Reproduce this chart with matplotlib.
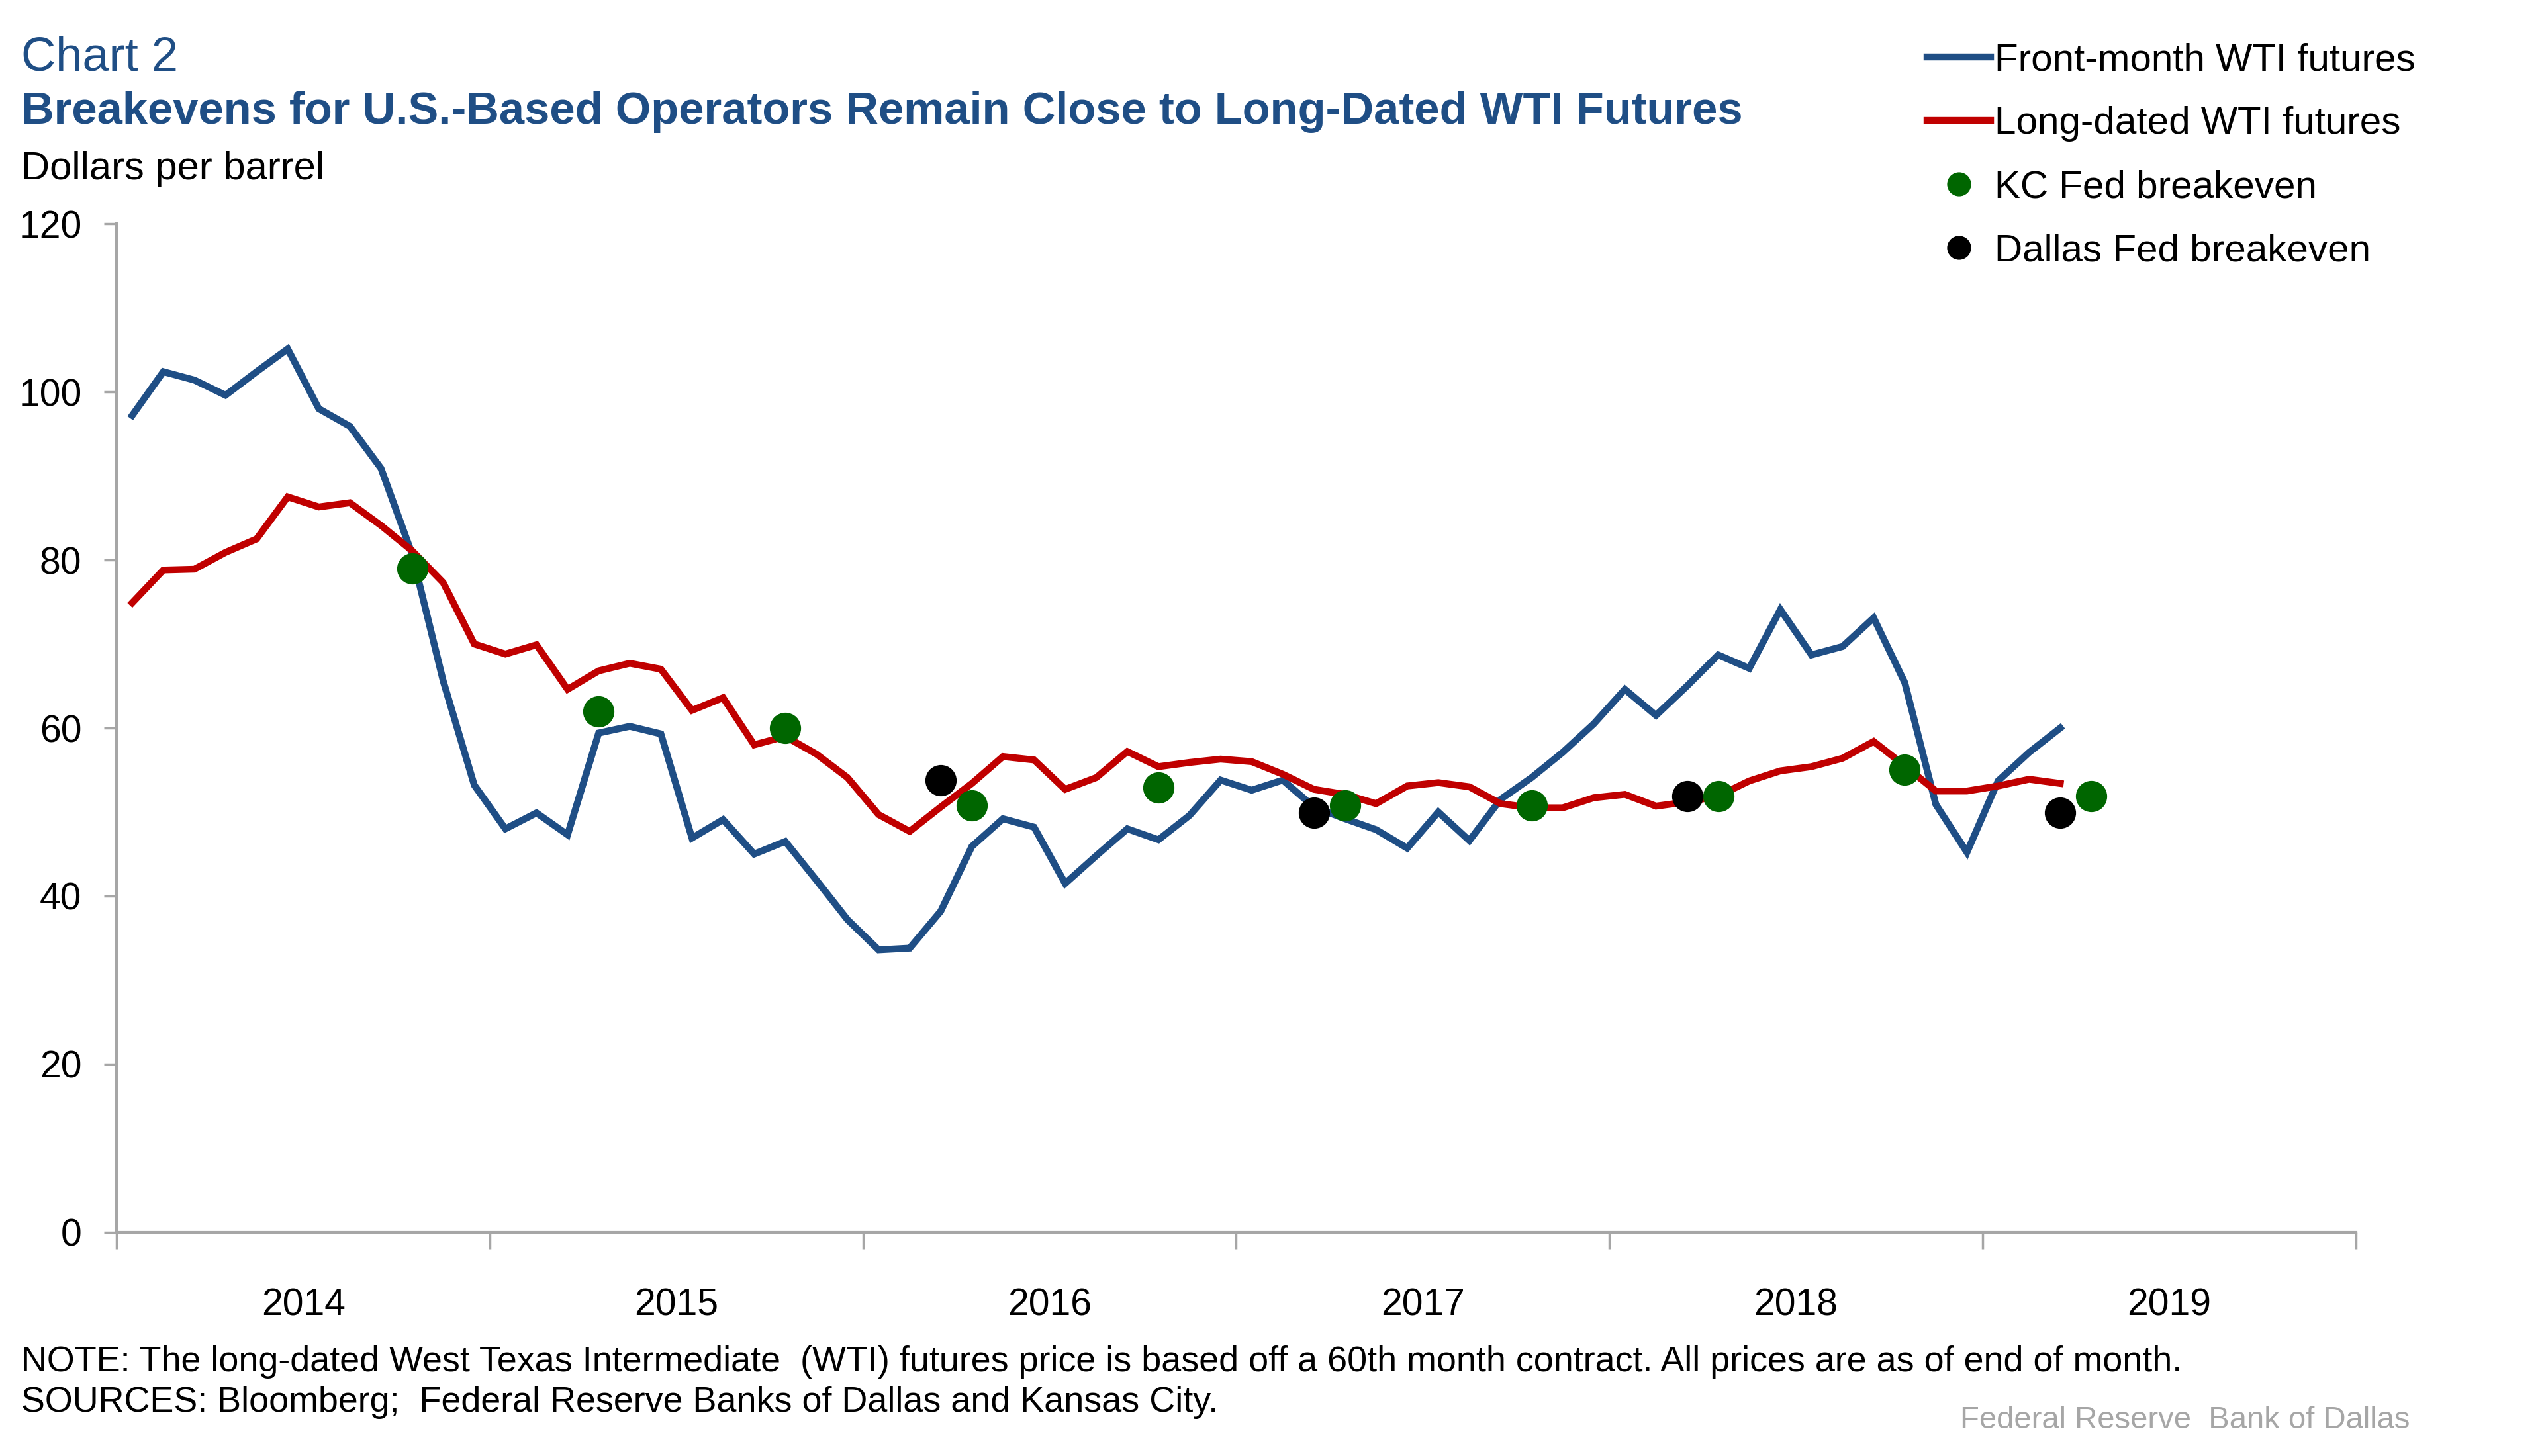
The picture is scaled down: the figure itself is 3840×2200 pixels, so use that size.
import numpy as np
import pandas as pd
import matplotlib
matplotlib.use("Agg")
import matplotlib.pyplot as plt
from matplotlib.ticker import FixedLocator, NullFormatter

plt.rcParams['font.family'] = ['Liberation Sans', 'DejaVu Sans']

# monthly end-of-month prices, Jan 2014 - Mar 2019
start = '2014-01'
front_month = [
    97.2, 102.4, 101.4, 99.6, 102.4, 105.1, 98.0, 95.9, 90.9, 80.7, 65.6, 53.2,
    48.0, 49.9, 47.3, 59.4, 60.2, 59.3, 46.9, 49.1, 45.0, 46.5, 41.9, 37.2,
    33.6, 33.8, 38.2, 45.9, 49.2, 48.2, 41.5, 44.8, 48.0, 46.7, 49.6, 53.8,
    52.6, 53.8, 50.6, 49.2, 47.9, 45.7, 50.0, 46.6, 51.5, 54.1, 57.1, 60.5,
    64.6, 61.5, 65.0, 68.7, 67.1, 74.1, 68.7, 69.7, 73.1, 65.4, 50.9, 45.2,
    53.7, 57.1, 60.0]
long_dated = [
    74.9, 78.8, 78.9, 80.9, 82.5, 87.5, 86.3, 86.8, 84.1, 81.1, 77.3, 70.0,
    68.8, 69.9, 64.6, 66.8, 67.7, 67.0, 62.1, 63.6, 58.0, 59.0, 56.9, 54.1,
    49.7, 47.7, 50.6, 53.4, 56.6, 56.2, 52.7, 54.1, 57.2, 55.4, 55.9, 56.3,
    56.0, 54.5, 52.7, 52.1, 51.0, 53.1, 53.5, 53.0, 51.0, 50.5, 50.5, 51.7,
    52.1, 50.7, 51.2, 51.9, 53.7, 54.9, 55.4, 56.4, 58.4, 55.5, 52.5, 52.5,
    53.1, 53.9, 53.4]

kc_dates = ['2014-10', '2015-04', '2015-10', '2016-04', '2016-10',
            '2017-04', '2017-10', '2018-04', '2018-10', '2019-04']
kc_values = [79.0, 62.0, 60.0, 50.8, 52.9, 50.8, 50.8, 51.9, 55.0, 51.9]
dallas_dates = ['2016-03', '2017-03', '2018-03', '2019-03']
dallas_values = [53.8, 49.9, 51.9, 49.9]

years = ['2014', '2015', '2016', '2017', '2018', '2019']

BLUE = '#1F4E85'
RED = '#C00000'
GREEN = '#006600'
TITLE = '#1F4E85'
AXGRAY = '#A6A6A6'


def month_pos(dates):
    # center of each month, in months since Jan 2014
    p = pd.PeriodIndex(dates, freq='M')
    return (p.year - 2014) * 12 + (p.month - 1) + 0.5


x_line = month_pos(pd.period_range(start, periods=len(front_month), freq='M'))

fig = plt.figure(figsize=(38.4, 22), dpi=100)
ax = fig.add_axes([0.0459, 0.1537, 0.8808, 0.6926])

l1, = ax.plot(x_line, front_month, color=BLUE, lw=7.5, solid_joinstyle='miter')
l2, = ax.plot(x_line, long_dated, color=RED, lw=7.5, solid_joinstyle='miter')
m1, = ax.plot(month_pos(kc_dates), kc_values, 'o', color=GREEN, ms=33, ls='none')
m2, = ax.plot(month_pos(dallas_dates), dallas_values, 'o', color='black', ms=33, ls='none')

ax.set_xlim(0, 72)
ax.set_ylim(0, 120)
ax.set_yticks(range(0, 121, 20))
ax.xaxis.set_major_locator(FixedLocator(range(0, 73, 12)))
ax.xaxis.set_major_formatter(NullFormatter())
ax.xaxis.set_minor_locator(FixedLocator([6 + 12 * i for i in range(len(years))]))
ax.set_xticklabels(years, minor=True)
ax.tick_params(axis='x', which='major', length=18, width=2.5, color=AXGRAY, direction='out')
ax.tick_params(axis='x', which='minor', length=0, pad=60, labelsize=41)
ax.tick_params(axis='y', length=14, width=2.5, color=AXGRAY, pad=24, labelsize=41)

for s in ['top', 'right']:
    ax.spines[s].set_visible(False)
for s in ['left', 'bottom']:
    ax.spines[s].set_color(AXGRAY)
    ax.spines[s].set_linewidth(3)

fig.text(0.0083, 0.960, 'Chart 2', fontsize=52, color=TITLE, va='center', ha='left')
fig.text(0.0083, 0.923, 'Breakevens for U.S.-Based Operators Remain Close to Long-Dated WTI Futures',
         fontsize=49.5, color=TITLE, fontweight='bold', va='center', ha='left')
fig.text(0.0083, 0.884, 'Dollars per barrel', fontsize=43, va='center', ha='left')

fig.legend([l1, l2, m1, m2],
           ['Front-month WTI futures', 'Long-dated WTI futures',
            'KC Fed breakeven', 'Dallas Fed breakeven'],
           loc='upper left', bbox_to_anchor=(0.7505, 0.984), frameon=False,
           fontsize=42, handlelength=1.65, handletextpad=0.1, labelspacing=0.72,
           borderpad=0, markerscale=0.76)

fig.text(0.0083, 0.0646,
         'NOTE: The long-dated West Texas Intermediate  (WTI) futures price is based off a 60th month contract. '
         'All prices are as of end of month.', fontsize=38.8, va='center', ha='left')
fig.text(0.0083, 0.0367, 'SOURCES: Bloomberg;  Federal Reserve Banks of Dallas and Kansas City.',
         fontsize=38.8, va='center', ha='left')
fig.text(0.948, 0.0245, 'Federal Reserve  Bank of Dallas', fontsize=34, color='#A6A6A6',
         va='center', ha='right')

fig.savefig('out.png', dpi=100)
